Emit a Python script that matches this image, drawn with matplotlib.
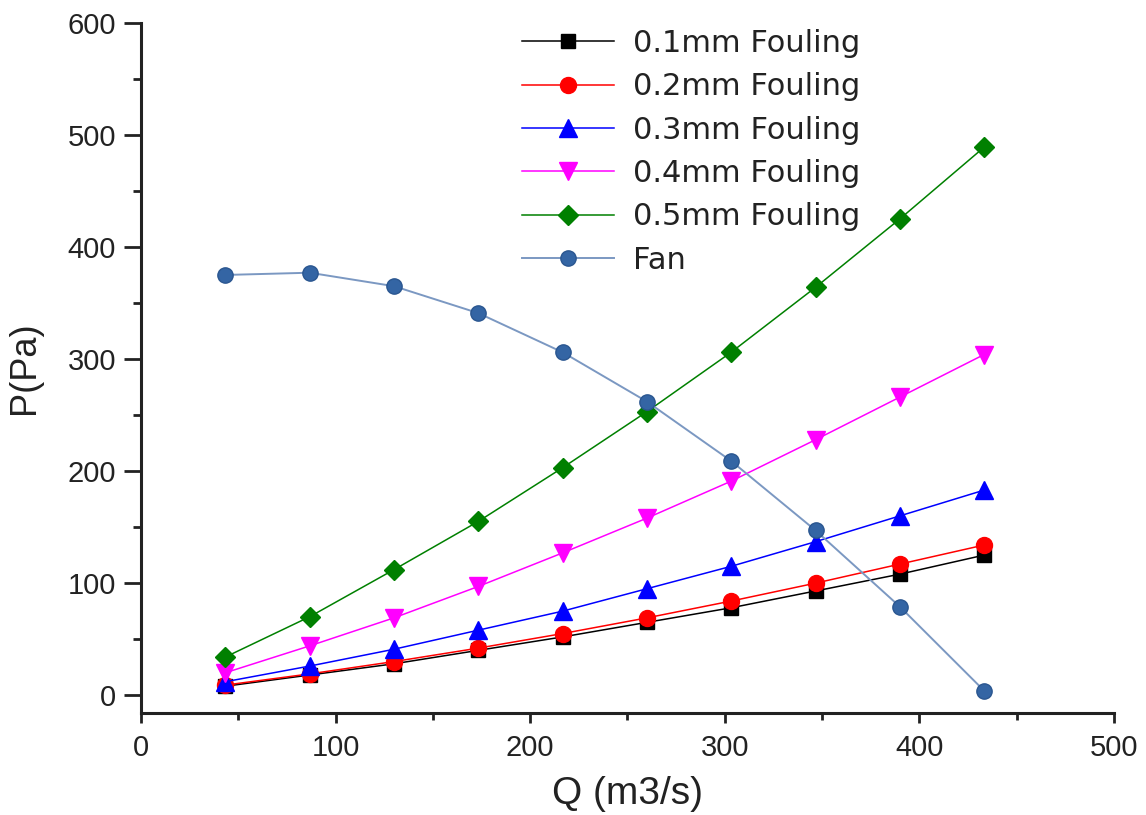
import numpy as np
import matplotlib.pyplot as plt
from matplotlib.ticker import MultipleLocator

# flow rate (m3/s)
q = [43.3, 86.7, 130, 173.3, 216.7, 260, 303.3, 346.7, 390, 433.3]

# system resistance for each fouling thickness (Pa)
p_01 = [8, 18, 28, 40, 52, 65, 78, 93, 108, 125]
p_02 = [9, 19, 30, 42, 55, 69, 84, 100, 117, 134]
p_03 = [12, 26, 41, 58, 75, 95, 115, 137, 160, 183]
p_04 = [20, 44, 69, 97, 127, 158, 191, 228, 266, 304]
p_05 = [34, 70, 112, 155, 203, 253, 306, 364, 425, 489]

# fan curve (Pa)
p_fan = [375, 377, 365, 341, 306, 262, 209, 147, 79, 4]


def main():
    plt.rcParams.update({
        "font.family": ["Liberation Sans", "DejaVu Sans"],
    })

    fig = plt.figure(figsize=(11.46, 8.15), dpi=100)
    ax = fig.add_axes([0.123, 0.125, 0.849, 0.847])

    ax.plot(q, p_01, color="black", lw=1.1, marker="s", ms=10, label="0.1mm Fouling")
    ax.plot(q, p_02, color="red", lw=1.1, marker="o", ms=11.5, label="0.2mm Fouling")
    ax.plot(q, p_03, color="blue", lw=1.1, marker="^", ms=12.5, label="0.3mm Fouling")
    ax.plot(q, p_04, color="magenta", lw=1.1, marker="v", ms=12.5, label="0.4mm Fouling")
    ax.plot(q, p_05, color="#008000", lw=1.1, marker="D", ms=10, label="0.5mm Fouling")
    ax.plot(q, p_fan, color="#7b98c2", lw=1.4, marker="o", ms=11,
            mfc="#3465a4", mec="#2a5690", label="Fan")

    ax.set_xlim(0, 500)
    ax.set_ylim(-16, 600)
    ax.xaxis.set_major_locator(MultipleLocator(100))
    ax.xaxis.set_minor_locator(MultipleLocator(50))
    ax.yaxis.set_major_locator(MultipleLocator(100))
    ax.yaxis.set_minor_locator(MultipleLocator(50))

    for s in ["top", "right"]:
        ax.spines[s].set_visible(False)
    for s in ["left", "bottom"]:
        ax.spines[s].set_linewidth(2.2)
        ax.spines[s].set_color("#222222")

    ax.tick_params(axis="y", which="major", direction="out", length=12, width=2,
                   pad=6, labelsize=21, colors="#222222")
    ax.tick_params(axis="y", which="minor", direction="out", length=6, width=2,
                   colors="#222222")
    ax.tick_params(axis="x", which="major", direction="out", length=7, width=2,
                   pad=8, labelsize=21, colors="#222222")
    ax.tick_params(axis="x", which="minor", direction="out", length=5, width=2,
                   colors="#222222")

    ax.set_xlabel("Q (m3/s)", fontsize=28, color="#222222", labelpad=10)
    ax.set_ylabel("P(Pa)", fontsize=26, color="#222222", labelpad=18)

    leg = ax.legend(loc="upper left", bbox_to_anchor=(522 / 1146, 1 - 29 / 815),
                    bbox_transform=fig.transFigure, frameon=False,
                    borderpad=0, borderaxespad=0,
                    prop={"family": "DejaVu Sans", "size": 22},
                    handlelength=3.0, labelspacing=0.47, handletextpad=0.62)
    for t in leg.get_texts():
        t.set_color("#222222")

    fig.savefig("out.png", dpi=100)
    plt.close(fig)


if __name__ == "__main__":
    main()
